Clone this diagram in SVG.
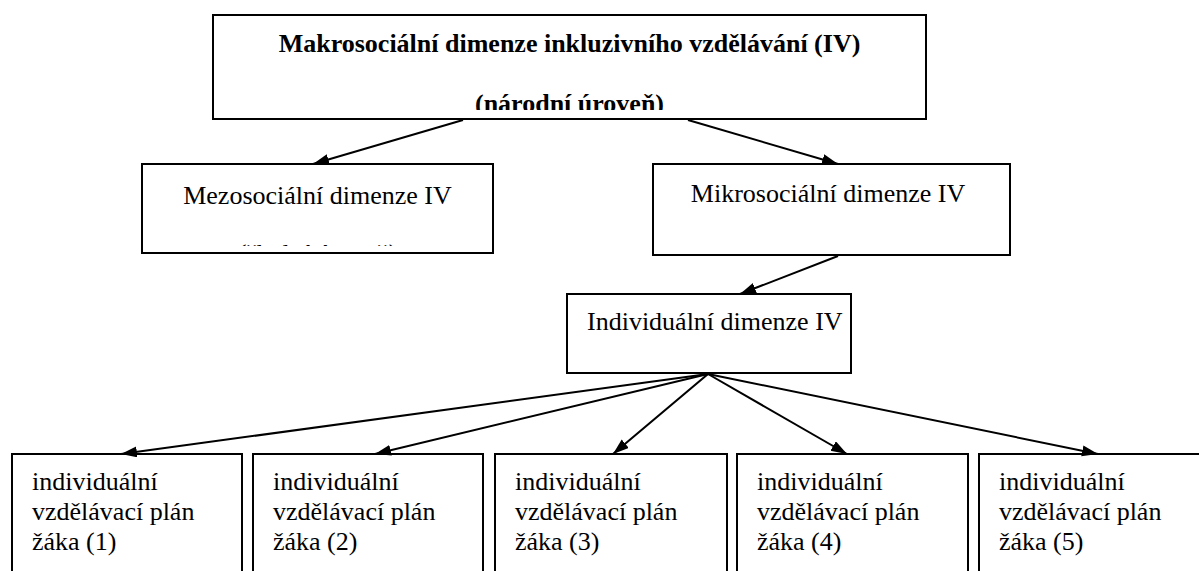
<svg xmlns="http://www.w3.org/2000/svg" width="1199" height="571" viewBox="0 0 1199 571">
  <style>
    .box { fill: #ffffff; stroke: #000000; stroke-width: 2; }
    .t { font-family: "Liberation Serif", "Times New Roman", serif; font-size: 26px; fill: #000000; }
    .b { font-weight: bold; }
    .c { text-anchor: middle; }
    .conn line { stroke: #000000; stroke-width: 2; fill: none; marker-end: url(#arrow); }
  </style>
  <defs>
    <marker id="arrow" markerUnits="userSpaceOnUse" markerWidth="17" markerHeight="12" refX="16" refY="5.5" orient="auto">
      <path d="M0,0 L16,5.5 L0,11 z" fill="#000000"/>
    </marker>
    <clipPath id="clipTop"><rect x="214" y="16" width="711" height="94"/></clipPath>
    <clipPath id="clipMezo"><rect x="143" y="165" width="349" height="81"/></clipPath>
  </defs>
  <rect width="1199" height="571" fill="#ffffff"/>

  <g id="makro">
    <rect class="box" x="213" y="15" width="713" height="104"/>
    <g clip-path="url(#clipTop)">
      <text class="t b c" x="569.5" y="52">Makrosociální dimenze inkluzivního vzdělávání (IV)</text>
      <text class="t b c" x="569.5" y="112">(národní úroveň)</text>
    </g>
  </g>

  <g id="mezo">
    <rect class="box" x="142" y="164" width="351" height="89"/>
    <g clip-path="url(#clipMezo)">
      <text class="t c" x="317.5" y="204">Mezosociální dimenze IV</text>
      <text class="t c" x="317.5" y="262">(školní úroveň)</text>
    </g>
  </g>

  <g id="mikro">
    <rect class="box" x="653" y="164" width="357" height="91"/>
    <text class="t c" x="828" y="202">Mikrosociální dimenze IV</text>
  </g>

  <g id="individualni">
    <rect class="box" x="567" y="294" width="284" height="79"/>
    <text class="t" x="587" y="330">Individuální dimenze IV</text>
  </g>

  <g id="ivp1">
    <rect class="box" x="12" y="454" width="230" height="140"/>
    <text class="t" x="32" y="490">individuální</text>
    <text class="t" x="32" y="520">vzdělávací plán</text>
    <text class="t" x="32" y="550">žáka (1)</text>
  </g>
  <g id="ivp2">
    <rect class="box" x="253" y="454" width="230" height="140"/>
    <text class="t" x="273" y="490">individuální</text>
    <text class="t" x="273" y="520">vzdělávací plán</text>
    <text class="t" x="273" y="550">žáka (2)</text>
  </g>
  <g id="ivp3">
    <rect class="box" x="495" y="454" width="232" height="140"/>
    <text class="t" x="515" y="490">individuální</text>
    <text class="t" x="515" y="520">vzdělávací plán</text>
    <text class="t" x="515" y="550">žáka (3)</text>
  </g>
  <g id="ivp4">
    <rect class="box" x="737" y="454" width="231" height="140"/>
    <text class="t" x="757" y="490">individuální</text>
    <text class="t" x="757" y="520">vzdělávací plán</text>
    <text class="t" x="757" y="550">žáka (4)</text>
  </g>
  <g id="ivp5">
    <rect class="box" x="979" y="454" width="240" height="140"/>
    <text class="t" x="999" y="490">individuální</text>
    <text class="t" x="999" y="520">vzdělávací plán</text>
    <text class="t" x="999" y="550">žáka (5)</text>
  </g>

  <g id="connectors" class="conn">
    <line x1="463" y1="120" x2="313" y2="164"/>
    <line x1="688" y1="120" x2="838" y2="164"/>
    <line x1="838" y1="256" x2="740" y2="294"/>
    <line x1="708" y1="374" x2="121" y2="454"/>
    <line x1="708" y1="374" x2="375" y2="454"/>
    <line x1="708" y1="374" x2="613" y2="454"/>
    <line x1="708" y1="374" x2="847" y2="454"/>
    <line x1="708" y1="374" x2="1098" y2="454"/>
  </g>
</svg>
